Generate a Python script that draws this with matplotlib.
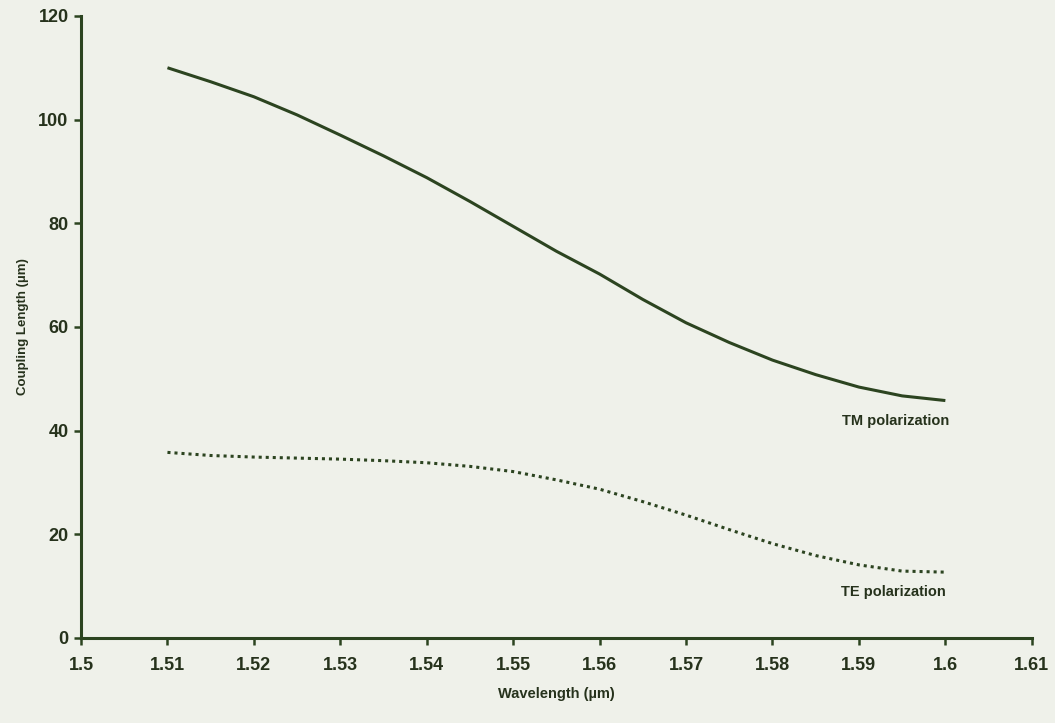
import matplotlib.pyplot as plt

# values
wavelength = [1.51, 1.515, 1.52, 1.525, 1.53, 1.535, 1.54, 1.545, 1.55, 1.555,
              1.56, 1.565, 1.57, 1.575, 1.58, 1.585, 1.59, 1.595, 1.6]
tm_length = [110.0, 107.3, 104.4, 100.9, 97.0, 93.0, 88.8, 84.2, 79.4, 74.6,
             70.2, 65.3, 60.8, 57.0, 53.6, 50.8, 48.4, 46.7, 45.8]
te_length = [35.8, 35.2, 34.9, 34.7, 34.5, 34.2, 33.8, 33.1, 32.1, 30.5,
             28.7, 26.3, 23.7, 20.9, 18.2, 15.9, 14.1, 12.9, 12.7]

x_ticks = [1.5, 1.51, 1.52, 1.53, 1.54, 1.55, 1.56, 1.57, 1.58, 1.59, 1.6, 1.61]
x_tick_labels = ["1.5", "1.51", "1.52", "1.53", "1.54", "1.55", "1.56",
                 "1.57", "1.58", "1.59", "1.6", "1.61"]
y_ticks = [0, 20, 40, 60, 80, 100, 120]

bg = "#eff1ea"
ink = "#2c4420"
text_col = "#26321c"

plt.rcParams["font.family"] = ["Liberation Sans Narrow", "Liberation Sans", "DejaVu Sans"]
plt.rcParams["font.weight"] = "bold"

fig = plt.figure(figsize=(10.55, 7.23), dpi=100, facecolor=bg)
ax = fig.add_axes([0.0768, 0.1176, 0.9012, 0.8604])
ax.set_facecolor(bg)

ax.plot(wavelength, tm_length, color=ink, linewidth=2.2, solid_capstyle="butt")
ax.plot(wavelength, te_length, color=ink, linewidth=2.2, linestyle=(0, (1, 1.3)))

ax.set_xlim(1.5, 1.61)
ax.set_ylim(0, 120)
ax.set_xticks(x_ticks)
ax.set_xticklabels(x_tick_labels)
ax.set_yticks(y_ticks)

for side in ["top", "right"]:
    ax.spines[side].set_visible(False)
for side in ["left", "bottom"]:
    ax.spines[side].set_color(ink)
    ax.spines[side].set_linewidth(2.2)

ax.tick_params(axis="both", direction="out", length=5, width=1.8, color=ink,
               labelcolor=text_col, labelsize=13)
ax.tick_params(axis="x", pad=9)
ax.tick_params(axis="y", pad=4)

ax.set_xlabel("Wavelength (µm)", fontsize=10.5, fontweight="bold",
              color=text_col, labelpad=9)
ax.set_ylabel("Coupling Length (µm)", fontsize=9.5, fontweight="bold",
              color=text_col, labelpad=7)

ax.text(1.5942, 41.9, "TM polarization", fontsize=10.5, color=text_col,
        ha="center", va="center")
ax.text(1.5940, 8.9, "TE polarization", fontsize=10.5, color=text_col,
        ha="center", va="center")

fig.savefig("out.png", dpi=100, facecolor=bg)
